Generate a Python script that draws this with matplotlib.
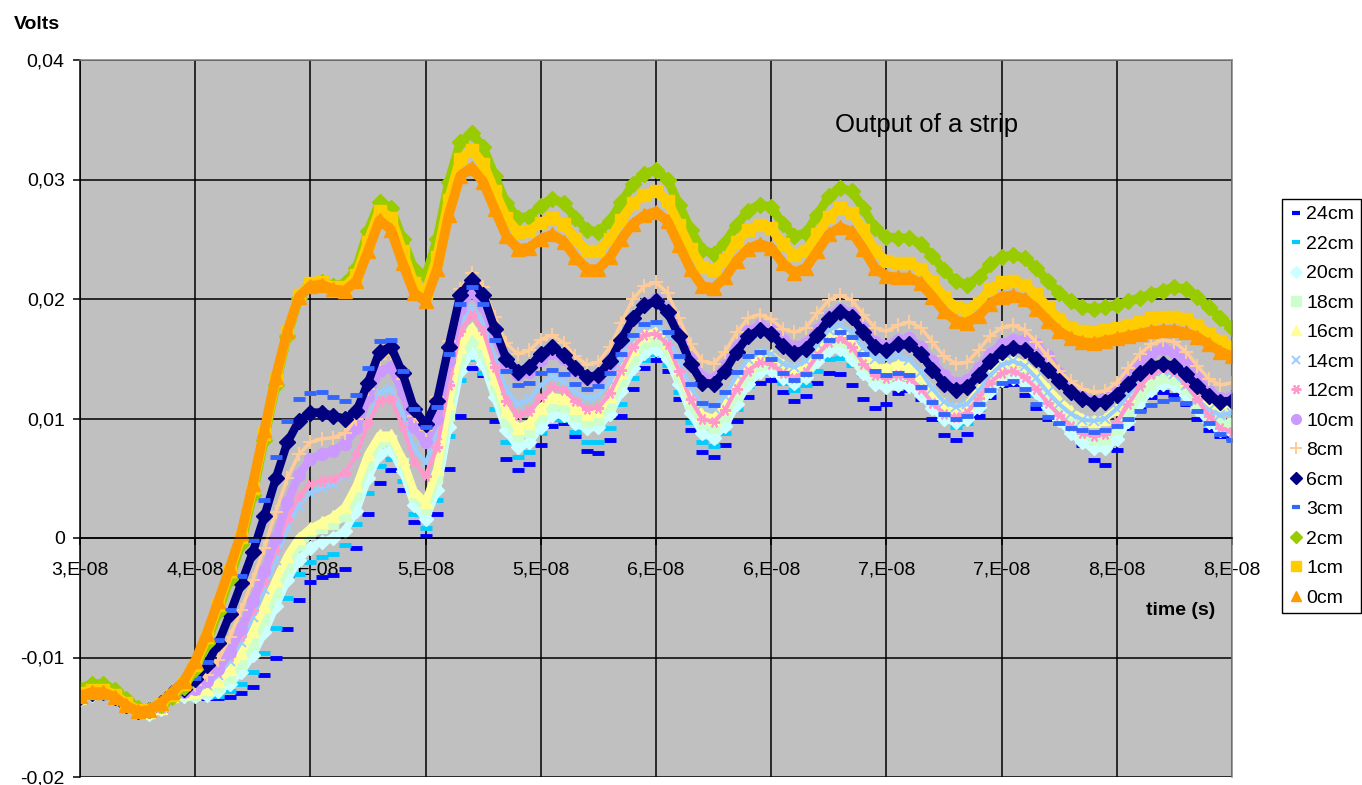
import numpy as np
import matplotlib
matplotlib.use("Agg")
import matplotlib.pyplot as plt
from matplotlib.lines import Line2D

plt.rcParams['font.family'] = ['Liberation Sans', 'DejaVu Sans']

# Sampling instants, in units of 1e-8 s (3.00 ... 8.00 every 0.05)
t_units = np.round(np.arange(3.0, 8.0001, 0.05), 2)

# Strip output for each source position, in millivolts
v_24cm = [-13.6, -13.2, -13.1, -13.4, -14.1, -14.7, -14.8, -14.4, -13.4, -13.2,
          -13.3, -13.4, -13.4, -13.3, -13.0, -12.5, -11.5, -10.0, -7.6, -5.2,
          -3.7, -3.3, -3.1, -2.6, -0.8, 2.0, 4.6, 5.7, 4.0, 1.3,
          0.2, 2.0, 5.8, 10.2, 14.2, 13.6, 9.8, 6.6, 5.7, 6.2,
          7.8, 9.4, 9.6, 8.5, 7.3, 7.1, 8.2, 10.2, 12.5, 14.2,
          14.9, 14.0, 11.6, 9.0, 7.2, 6.8, 7.8, 9.8, 11.8, 13.0,
          13.2, 12.2, 11.5, 11.9, 13.0, 13.8, 13.7, 12.8, 11.6, 10.9,
          11.2, 12.1, 12.4, 11.6, 10.0, 8.6, 8.2, 8.7, 10.2, 11.8,
          12.8, 12.9, 12.0, 10.9, 10.0, 9.6, 9.0, 7.8, 6.5, 6.1,
          7.4, 9.2, 10.8, 11.8, 12.2, 12.0, 11.2, 10.0, 9.0, 8.5,
          8.4]
v_22cm = [-13.5, -13.1, -13.0, -13.3, -14.0, -14.6, -14.7, -14.3, -13.4, -13.3,
          -13.3, -13.3, -13.2, -12.8, -12.2, -11.2, -9.6, -7.5, -5.0, -3.0,
          -2.0, -1.6, -1.3, -0.6, 1.2, 3.8, 6.0, 6.6, 4.8, 2.0,
          0.8, 3.2, 8.5, 13.2, 15.0, 13.8, 10.8, 8.0, 6.8, 7.2,
          8.8, 10.0, 9.9, 8.9, 8.0, 8.0, 9.2, 11.2, 13.4, 14.9,
          15.4, 14.5, 12.2, 9.7, 8.0, 7.7, 8.8, 10.8, 12.7, 13.8,
          13.9, 13.0, 12.4, 12.8, 14.0, 15.0, 15.1, 14.5, 13.7, 13.6,
          14.0, 14.2, 13.9, 12.9, 11.3, 9.9, 9.3, 9.6, 10.8, 12.2,
          13.2, 13.5, 13.0, 12.0, 10.9, 10.0, 9.2, 8.4, 7.8, 7.6,
          8.5, 10.0, 11.5, 12.6, 13.0, 12.8, 11.9, 10.6, 9.5, 8.8,
          8.8]
v_20cm = [-13.5, -13.1, -13.0, -13.3, -14.0, -14.6, -14.7, -14.3, -13.3, -13.2,
          -13.2, -13.1, -12.8, -12.2, -11.2, -9.8, -7.9, -5.7, -3.5, -1.8,
          -0.8, -0.3, 0.0, 0.6, 2.3, 5.0, 7.0, 7.4, 5.6, 2.8,
          1.6, 4.0, 9.3, 14.0, 15.6, 14.6, 11.8, 9.0, 7.6, 8.0,
          9.3, 10.3, 10.3, 9.6, 9.2, 9.3, 10.4, 12.3, 14.2, 15.5,
          15.8, 15.0, 12.9, 10.5, 8.8, 8.4, 9.4, 11.2, 12.9, 13.9,
          14.1, 13.4, 13.0, 13.5, 14.8, 15.7, 15.8, 15.0, 13.8, 12.9,
          12.6, 12.8, 12.7, 12.0, 10.9, 10.0, 9.7, 10.0, 11.0, 12.3,
          13.2, 13.4, 13.0, 12.2, 11.0, 9.9, 8.8, 8.0, 7.5, 7.5,
          8.3, 9.8, 11.3, 12.4, 12.9, 12.8, 12.0, 10.8, 9.7, 9.0,
          8.9]
v_18cm = [-13.4, -13.0, -12.9, -13.2, -13.9, -14.5, -14.6, -14.2, -13.3, -13.1,
          -13.1, -12.9, -12.5, -11.7, -10.5, -8.9, -6.9, -4.6, -2.4, -0.6,
          0.3, 0.8, 1.2, 1.8, 3.5, 6.2, 8.0, 8.2, 6.3, 3.5,
          2.4, 5.0, 10.3, 15.0, 16.6, 15.5, 12.6, 9.8, 8.5, 8.9,
          10.2, 11.1, 11.0, 10.2, 9.7, 9.9, 11.1, 13.1, 15.0, 16.2,
          16.5, 15.7, 13.6, 11.2, 9.6, 9.2, 10.2, 12.0, 13.6, 14.5,
          14.6, 13.9, 13.5, 14.0, 15.4, 16.4, 16.5, 15.8, 14.5, 13.6,
          13.4, 13.7, 13.6, 12.8, 11.6, 10.6, 10.2, 10.5, 11.6, 12.9,
          13.8, 14.1, 13.7, 12.8, 11.7, 10.6, 9.6, 8.8, 8.3, 8.3,
          9.1, 10.5, 11.9, 12.9, 13.4, 13.3, 12.5, 11.3, 10.2, 9.6,
          9.6]
v_16cm = [-13.4, -13.0, -12.9, -13.2, -13.9, -14.5, -14.6, -14.2, -13.2, -13.0,
          -12.9, -12.6, -12.0, -11.0, -9.6, -7.8, -5.7, -3.5, -1.5, 0.0,
          0.8, 1.3, 1.8, 2.6, 4.4, 7.0, 8.6, 8.6, 6.6, 3.9,
          3.0, 5.8, 11.3, 16.0, 17.6, 16.4, 13.4, 10.6, 9.2, 9.6,
          10.9, 11.8, 11.7, 10.9, 10.4, 10.6, 11.9, 13.9, 15.8, 17.0,
          17.3, 16.4, 14.2, 11.8, 10.3, 10.0, 11.0, 12.9, 14.5, 15.3,
          15.3, 14.5, 14.1, 14.6, 16.1, 17.2, 17.4, 16.7, 15.4, 14.4,
          14.2, 14.5, 14.4, 13.6, 12.3, 11.2, 10.8, 11.1, 12.3, 13.7,
          14.6, 14.9, 14.5, 13.6, 12.5, 11.5, 10.6, 10.0, 9.8, 10.0,
          10.8, 12.0, 13.2, 14.0, 14.3, 14.0, 13.1, 12.0, 11.1, 10.8,
          11.0]
v_14cm = [-13.4, -13.0, -12.9, -13.2, -13.9, -14.5, -14.6, -14.2, -13.1, -12.9,
          -12.7, -12.3, -11.5, -10.3, -8.7, -6.6, -4.3, -1.8, 0.8, 2.7,
          3.8, 4.2, 4.5, 5.2, 7.0, 9.8, 12.2, 12.5, 10.4, 7.5,
          6.3, 8.6, 13.4, 17.8, 19.3, 18.0, 15.0, 12.4, 11.2, 11.6,
          12.8, 13.5, 13.1, 12.2, 11.7, 11.9, 13.1, 15.0, 16.8, 17.8,
          17.9, 17.0, 14.9, 12.6, 11.1, 10.9, 11.9, 13.6, 15.0, 15.6,
          15.4, 14.6, 14.3, 14.8, 16.2, 17.4, 17.8, 17.2, 15.9, 15.0,
          15.0, 15.2, 14.9, 13.9, 12.5, 11.4, 11.0, 11.2, 12.3, 13.6,
          14.5, 14.8, 14.4, 13.4, 12.2, 11.2, 10.4, 9.9, 9.8, 10.0,
          10.8, 12.0, 13.1, 13.8, 14.0, 13.7, 12.8, 11.6, 10.7, 10.3,
          10.5]
v_12cm = [-13.4, -13.0, -12.9, -13.2, -13.9, -14.5, -14.6, -14.2, -13.1, -12.9,
          -12.6, -12.1, -11.2, -9.9, -8.2, -6.0, -3.6, -1.0, 1.6, 3.5,
          4.5, 4.8, 4.9, 5.4, 7.0, 9.6, 11.5, 11.6, 9.4, 6.4,
          5.2, 7.6, 12.8, 17.3, 18.7, 17.4, 14.3, 11.5, 10.3, 10.6,
          11.8, 12.6, 12.4, 11.5, 10.8, 10.9, 12.1, 14.1, 16.0, 17.0,
          17.1, 16.2, 14.0, 11.6, 10.0, 9.7, 10.7, 12.5, 14.0, 14.7,
          14.6, 13.8, 13.4, 13.9, 15.3, 16.4, 16.7, 16.0, 14.6, 13.6,
          13.4, 13.6, 13.4, 12.5, 11.3, 10.4, 10.1, 10.5, 11.7, 13.0,
          13.8, 14.0, 13.5, 12.5, 11.3, 10.3, 9.4, 8.8, 8.5, 8.7,
          9.7, 11.2, 12.7, 13.7, 14.2, 14.0, 13.0, 11.6, 10.2, 9.2,
          8.9]
v_10cm = [-13.3, -13.0, -12.9, -13.3, -14.0, -14.5, -14.5, -14.0, -13.2, -12.9,
          -12.6, -12.0, -11.0, -9.5, -7.6, -5.3, -2.8, 0.0, 3.0, 5.3,
          6.6, 7.0, 7.3, 7.9, 9.2, 11.8, 14.0, 14.3, 12.2, 9.3,
          8.0, 10.0, 14.8, 19.2, 20.6, 19.4, 16.8, 14.6, 13.6, 13.9,
          14.9, 15.5, 15.0, 14.0, 13.3, 13.4, 14.6, 16.5, 18.4, 19.6,
          20.0, 19.2, 17.2, 15.0, 13.5, 13.3, 14.4, 16.0, 17.3, 17.8,
          17.5, 16.6, 16.0, 16.3, 17.4, 18.6, 19.2, 18.8, 17.6, 16.4,
          16.1, 16.6, 16.7, 16.0, 14.8, 13.6, 13.0, 13.2, 14.2, 15.4,
          16.2, 16.6, 16.6, 16.2, 15.2, 13.8, 12.6, 11.8, 11.5, 11.7,
          12.5, 13.7, 14.8, 15.5, 15.8, 15.6, 14.8, 13.5, 12.3, 11.7,
          11.8]
v_8cm = [-13.3, -13.0, -12.9, -13.3, -14.0, -14.5, -14.5, -13.9, -13.0, -12.8,
         -12.3, -11.5, -10.2, -8.3, -6.0, -3.5, -0.8, 2.2, 5.0, 7.0,
         8.0, 8.3, 8.4, 8.8, 10.0, 12.5, 15.0, 15.5, 13.3, 10.2,
         9.0, 11.8, 16.5, 20.8, 22.2, 21.0, 18.5, 16.3, 15.4, 15.7,
         16.6, 17.0, 16.3, 15.2, 14.5, 14.7, 16.0, 18.0, 20.0, 21.1,
         21.4, 20.5, 18.4, 16.2, 14.8, 14.6, 15.6, 17.2, 18.4, 18.7,
         18.3, 17.5, 17.2, 17.6, 18.8, 19.9, 20.3, 19.9, 18.7, 17.6,
         17.3, 17.8, 18.1, 17.6, 16.4, 15.2, 14.6, 14.7, 15.7, 16.9,
         17.6, 17.8, 17.4, 16.4, 15.2, 14.0, 13.1, 12.5, 12.2, 12.3,
         13.0, 14.2, 15.4, 16.2, 16.6, 16.4, 15.6, 14.4, 13.3, 12.8,
         13.0]
v_6cm = [-13.3, -13.0, -12.9, -13.3, -14.0, -14.5, -14.4, -13.8, -13.0, -12.6,
         -11.8, -10.6, -8.8, -6.4, -3.8, -1.2, 1.8, 5.0, 8.0, 9.8,
         10.5, 10.5, 10.2, 10.0, 10.6, 13.0, 15.6, 16.0, 13.8, 10.8,
         9.5, 11.5, 16.0, 20.3, 21.6, 20.3, 17.5, 15.0, 13.9, 14.3,
         15.4, 16.0, 15.3, 14.2, 13.5, 13.6, 14.8, 16.6, 18.4, 19.5,
         19.8, 18.9, 16.9, 14.6, 13.0, 12.9, 14.0, 15.6, 16.9, 17.4,
         17.1, 16.1, 15.5, 15.8, 17.0, 18.3, 18.9, 18.5, 17.2, 16.0,
         15.7, 16.2, 16.2, 15.4, 14.1, 12.9, 12.4, 12.6, 13.6, 14.8,
         15.6, 15.9, 15.7, 15.0, 14.1, 13.1, 12.2, 11.6, 11.3, 11.4,
         12.0, 12.9, 13.8, 14.4, 14.6, 14.4, 13.7, 12.7, 11.9, 11.4,
         11.5]
v_3cm = [-13.3, -13.0, -12.9, -13.3, -14.0, -14.5, -14.5, -13.9, -13.0, -12.5,
         -11.7, -10.4, -8.5, -6.0, -3.2, -0.2, 3.2, 6.8, 9.8, 11.6,
         12.1, 12.2, 11.8, 11.5, 12.0, 14.2, 16.5, 16.6, 14.0, 10.8,
         9.3, 11.0, 15.4, 19.6, 21.0, 19.6, 16.6, 14.0, 12.8, 13.0,
         13.8, 14.1, 13.7, 12.9, 12.5, 12.7, 13.8, 15.4, 17.0, 17.9,
         18.1, 17.2, 15.2, 12.9, 11.3, 11.1, 12.2, 13.9, 15.2, 15.6,
         15.0, 13.8, 13.2, 13.7, 15.2, 16.6, 17.2, 16.8, 15.4, 14.0,
         13.6, 13.8, 13.6, 12.6, 11.4, 10.4, 10.0, 10.2, 11.2, 12.4,
         13.0, 13.1, 12.5, 11.2, 10.1, 9.6, 9.2, 9.0, 8.9, 9.0,
         9.4, 10.0, 10.6, 11.1, 11.5, 11.6, 11.3, 10.6, 9.6, 8.7,
         8.2]
v_2cm = [-12.6, -12.2, -12.2, -12.7, -13.5, -14.2, -14.4, -14.0, -13.3, -12.5,
         -11.0, -8.8, -6.2, -3.4, -0.5, 3.6, 8.2, 12.8, 16.9, 20.1,
         21.2, 21.4, 21.1, 21.3, 22.6, 25.7, 28.1, 27.6, 25.0, 22.5,
         21.9, 25.0, 29.8, 33.1, 33.9, 32.7, 30.3, 28.0, 26.8, 26.9,
         27.8, 28.4, 28.0, 26.8, 25.8, 25.6, 26.5, 28.1, 29.6, 30.5,
         30.8, 30.0, 27.9, 25.8, 24.1, 23.8, 24.7, 26.2, 27.4, 27.9,
         27.7, 26.3, 25.3, 25.5, 27.0, 28.6, 29.3, 29.0, 27.6, 25.9,
         25.2, 25.1, 25.1, 24.6, 23.6, 22.4, 21.5, 21.2, 21.8, 22.9,
         23.5, 23.7, 23.4, 22.6, 21.5, 20.5, 19.8, 19.3, 19.2, 19.3,
         19.5, 19.8, 20.1, 20.4, 20.7, 21.0, 20.8, 20.2, 19.3, 18.4,
         17.6]
v_1cm = [-13.0, -12.7, -12.7, -13.1, -13.8, -14.4, -14.4, -13.9, -13.1, -12.2,
         -10.6, -8.3, -5.6, -2.8, 0.1, 4.2, 8.7, 13.2, 17.2, 20.3,
         21.3, 21.4, 21.0, 21.0, 22.0, 24.8, 27.4, 26.8, 24.0, 21.3,
         20.5, 23.5, 28.3, 31.7, 32.5, 31.3, 29.0, 26.8, 25.6, 25.7,
         26.4, 26.8, 26.3, 25.0, 24.0, 24.0, 25.0, 26.6, 28.0, 28.7,
         29.0, 28.2, 26.2, 24.2, 22.7, 22.4, 23.3, 24.8, 25.8, 26.2,
         25.9, 24.6, 23.7, 24.0, 25.4, 26.9, 27.6, 27.2, 25.8, 24.0,
         23.2, 23.0, 23.0, 22.5, 21.4, 20.2, 19.3, 19.1, 19.7, 20.8,
         21.4, 21.5, 21.2, 20.4, 19.3, 18.3, 17.6, 17.3, 17.2, 17.4,
         17.6, 17.8, 18.1, 18.4, 18.5, 18.5, 18.3, 17.8, 17.1, 16.5,
         16.0]
v_0cm = [-13.2, -12.9, -12.9, -13.3, -14.0, -14.5, -14.4, -13.8, -12.9, -12.0,
         -10.3, -8.0, -5.3, -2.5, 0.4, 4.5, 9.0, 13.5, 17.3, 20.2,
         21.1, 21.2, 20.8, 20.7, 21.5, 24.0, 26.6, 25.8, 23.0, 20.5,
         19.8, 22.5, 27.0, 30.3, 31.0, 29.8, 27.5, 25.3, 24.2, 24.3,
         25.0, 25.4, 24.8, 23.5, 22.5, 22.5, 23.5, 25.0, 26.3, 27.0,
         27.3, 26.5, 24.5, 22.5, 21.1, 20.9, 21.8, 23.2, 24.2, 24.6,
         24.3, 23.0, 22.2, 22.6, 24.0, 25.4, 26.0, 25.6, 24.2, 22.6,
         21.9, 21.8, 21.8, 21.3, 20.2, 19.0, 18.2, 18.0, 18.6, 19.6,
         20.2, 20.3, 20.0, 19.2, 18.2, 17.3, 16.7, 16.4, 16.3, 16.5,
         16.7, 16.9, 17.1, 17.3, 17.4, 17.4, 17.2, 16.8, 16.2, 15.6,
         15.2]

labels = ['24cm', '22cm', '20cm', '18cm', '16cm', '14cm', '12cm',
          '10cm', '8cm', '6cm', '3cm', '2cm', '1cm', '0cm']
series = [v_24cm, v_22cm, v_20cm, v_18cm, v_16cm, v_14cm, v_12cm,
          v_10cm, v_8cm, v_6cm, v_3cm, v_2cm, v_1cm, v_0cm]

# marker, colour, marker size, marker edge width, band width, legend marker size
styles = [
    ('_', '#0000FF', 8.0, 3.5, 0.0, 6.0),
    ('_', '#00CCFF', 8.0, 3.5, 0.0, 6.0),
    ('D', '#CCFFFF', 7.5, 1.0, 5.5, 6.0),
    ('s', '#CCFFCC', 7.5, 1.0, 5.5, 6.5),
    ('^', '#FFFF99', 8.5, 1.0, 5.5, 7.0),
    ('x', '#99CCFF', 7.0, 1.4, 3.0, 6.0),
    ((6, 2, 90), '#FF99CC', 8.0, 1.4, 3.0, 7.0),
    ('o', '#CC99FF', 8.5, 1.0, 6.0, 7.0),
    ('+', '#FFCC99', 9.5, 1.4, 2.5, 8.0),
    ('D', '#000080', 8.5, 1.0, 6.0, 6.5),
    ('_', '#3366FF', 8.0, 3.5, 0.0, 6.0),
    ('D', '#99CC00', 8.5, 1.0, 6.5, 6.5),
    ('s', '#FFCC00', 8.0, 1.0, 7.0, 6.5),
    ('^', '#FF9900', 9.5, 1.0, 7.0, 7.0),
]

x_ticks = [3.0, 3.5, 4.0, 4.5, 5.0, 5.5, 6.0, 6.5, 7.0, 7.5, 8.0]
x_tick_labels = ['3,E-08', '4,E-08', '4,E-08', '5,E-08', '5,E-08', '6,E-08',
                 '6,E-08', '7,E-08', '7,E-08', '8,E-08', '8,E-08']
y_ticks = [-0.02, -0.01, 0.0, 0.01, 0.02, 0.03, 0.04]
y_tick_labels = ['-0,02', '-0,01', '0', '0,01', '0,02', '0,03', '0,04']

fig = plt.figure(figsize=(13.62, 7.85), dpi=100)
ax = fig.add_axes([80 / 1362, 1 - 777 / 785, (1232 - 80) / 1362, (777 - 60) / 785])
ax.set_facecolor('#C0C0C0')

t = t_units * 1e-8
handles = []
for lab, vals, (mk, col, ms, mew, lw, lms) in zip(labels, series, styles):
    v = np.array(vals) / 1000.0
    if lw > 0:
        ax.plot(t, v, color=col, lw=lw, solid_capstyle='butt')
    ax.plot(t, v, ls='none', marker=mk, ms=ms, mew=mew, mfc=col, mec=col)
    handles.append(Line2D([], [], ls='none', marker=mk, ms=lms, mew=min(mew, 3.0),
                          mfc=col, mec=col, label=lab))

ax.set_xlim(3.0e-8, 8.0e-8)
ax.set_ylim(-0.02, 0.04)
ax.set_xticks([x * 1e-8 for x in x_ticks])
ax.set_xticklabels(x_tick_labels)
ax.set_yticks(y_ticks)
ax.set_yticklabels(y_tick_labels)
ax.grid(True, color='black', lw=1.1)

for side in ('top', 'right'):
    ax.spines[side].set_color('#808080')
    ax.spines[side].set_linewidth(1.1)
ax.spines['left'].set_color('black')
ax.spines['left'].set_linewidth(1.1)
ax.spines['bottom'].set_position(('data', 0.0))
ax.spines['bottom'].set_color('black')
ax.spines['bottom'].set_linewidth(1.1)

ax.tick_params(axis='y', direction='out', length=5, width=1.1, pad=6,
               labelsize=14, colors='black')
ax.tick_params(axis='x', direction='out', length=5, width=1.1, pad=12,
               labelsize=14, colors='black')

ax.text(6.277e-8, 0.03397, 'Output of a strip', fontsize=18.5,
        ha='left', va='baseline', zorder=1)

fig.text(14 / 1362, 1 - 29 / 785, 'Volts', fontsize=14, fontweight='bold',
         ha='left', va='baseline')
fig.text(1181 / 1362, 1 - 615 / 785, 'time (s)', fontsize=14,
         fontweight='bold', ha='center', va='baseline')

leg = fig.legend(handles=handles, loc='upper left',
                 bbox_to_anchor=(1282 / 1362, 1 - 199 / 785),
                 bbox_transform=fig.transFigure, fontsize=14,
                 frameon=True, fancybox=False, framealpha=1,
                 edgecolor='black', borderpad=0.35, handlelength=0.7,
                 handletextpad=0.2, labelspacing=0.61, borderaxespad=0)
leg.get_frame().set_linewidth(1.0)

fig.savefig('out.png', dpi=100)
